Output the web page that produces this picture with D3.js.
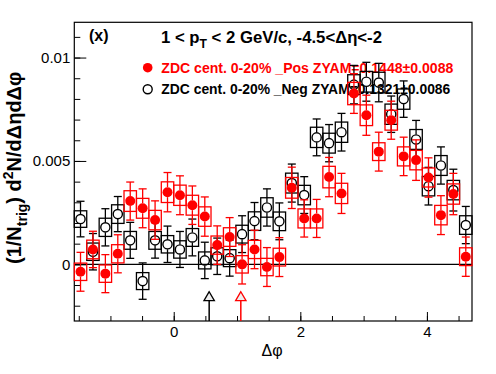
<!DOCTYPE html>
<html>
<head>
<meta charset="utf-8">
<script src="https://cdn.jsdelivr.net/npm/d3@7"></script>
<style>
  body { margin: 0; background: #fff; }
  text { font-family: "Liberation Sans", Arial, Helvetica, sans-serif; }
</style>
</head>
<body>
<svg width="496" height="374"></svg>
<script>
// 32 bins in dphi, from -pi/2 to 3pi/2
var nBins = 32;
var binCenters = d3.range(nBins).map(function (i) { return -Math.PI / 2 + (i + 0.5) * 2 * Math.PI / nBins; });

// ZDC 0-20% _Pos (red, filled)
var posVals = [-0.00036, 0.00072, -0.00045, 0.00051, 0.00306, 0.00271, 0.00214, 0.00349,
               0.00334, 0.00286, 0.00231, 0.00093, 0.00132, 0.00000, 0.00072, -0.00013,
               0.00035, 0.00370, 0.00222, 0.00222, 0.00422, 0.00343, 0.00826, 0.00721,
               0.00545, 0.00697, 0.00522, 0.00504, 0.00420, 0.00238, 0.00340, 0.00037];
var posStat = [0.00094, 0.00088, 0.00092, 0.00092, 0.00092, 0.00094, 0.00093, 0.00095,
               0.00094, 0.00093, 0.00095, 0.00093, 0.00094, 0.00095, 0.00093, 0.00094,
               0.00094, 0.00100, 0.00090, 0.00092, 0.00095, 0.00097, 0.00096, 0.00097,
               0.00094, 0.00092, 0.00093, 0.00098, 0.00095, 0.00094, 0.00100, 0.00095];
var posSys  = [0.00042, 0.00045, 0.00042, 0.00044, 0.00050, 0.00048, 0.00047, 0.00050,
               0.00049, 0.00048, 0.00047, 0.00044, 0.00045, 0.00042, 0.00044, 0.00042,
               0.00043, 0.00050, 0.00046, 0.00046, 0.00052, 0.00049, 0.00054, 0.00050,
               0.00043, 0.00048, 0.00046, 0.00047, 0.00046, 0.00047, 0.00049, 0.00043];

// ZDC 0-20% _Neg (black, open)
var negVals = [0.00219, 0.00061, 0.00179, 0.00243, 0.00116, -0.00081, 0.00116, 0.00097,
               0.00072, 0.00130, 0.00019, 0.00039, 0.00030, 0.00146, 0.00209, 0.00275,
               0.00208, 0.00393, 0.00335, 0.00614, 0.00586, 0.00639, 0.00869, 0.00883,
               0.00879, 0.00726, 0.00799, 0.00604, 0.00378, 0.00478, 0.00359, 0.00190];
var negStat = [0.00086, 0.00088, 0.00090, 0.00085, 0.00087, 0.00088, 0.00086, 0.00088,
               0.00087, 0.00089, 0.00088, 0.00088, 0.00087, 0.00089, 0.00090, 0.00090,
               0.00089, 0.00092, 0.00089, 0.00089, 0.00090, 0.00091, 0.00093, 0.00094,
               0.00093, 0.00088, 0.00088, 0.00092, 0.00091, 0.00090, 0.00101, 0.00090];
var negSys  = [0.00040, 0.00042, 0.00044, 0.00045, 0.00043, 0.00041, 0.00043, 0.00042,
               0.00042, 0.00043, 0.00041, 0.00041, 0.00041, 0.00043, 0.00045, 0.00047,
               0.00045, 0.00048, 0.00047, 0.00049, 0.00048, 0.00049, 0.00048, 0.00050,
               0.00050, 0.00049, 0.00049, 0.00048, 0.00047, 0.00048, 0.00047, 0.00045];

// arrow markers on the x axis (black = Neg, red = Pos)
var arrowPhi = [0.56, 1.06];
var arrowColors = ["#000", "#f00"];

var xMajor = [0, 2, 4];
var xMinor = d3.range(-1.5, 4.75, 0.5);
var yMajor = [0, 0.005, 0.01];
var yMinor = d3.range(-0.002, 0.0115, 0.001);

var svg = d3.select("svg");
var plotL = 74.3, plotR = 472, plotT = 22.3, plotB = 321;

var x = d3.scaleLinear().domain([-Math.PI / 2, 3 * Math.PI / 2]).range([plotL, plotR]);
var y = d3.scaleLinear().domain([-0.00274, 0.011705]).range([plotB, plotT]);
var halfBin = (x(2 * Math.PI / nBins) - x(0)) / 2;

svg.append("rect").attr("width", 496).attr("height", 374).attr("fill", "#fff");

// axes (ticks inside the frame, ROOT style)
var yAxis = d3.axisLeft(y).tickValues(yMajor).tickSize(-12).tickPadding(4)
    .tickFormat(function (d) { return d === 0 ? "0" : String(+d.toFixed(4)); });
var yAxisMinor = d3.axisLeft(y).tickValues(yMinor).tickSize(-6).tickFormat("");
var xAxis = d3.axisBottom(x).tickValues(xMajor).tickSize(-9).tickPadding(5).tickFormat(d3.format("d"));
var xAxisMinor = d3.axisBottom(x).tickValues(xMinor).tickSize(-5).tickFormat("");

[[yAxis, "translate(" + plotL + ",0)"], [yAxisMinor, "translate(" + plotL + ",0)"],
 [xAxis, "translate(0," + plotB + ")"], [xAxisMinor, "translate(0," + plotB + ")"]].forEach(function (a) {
    var g = svg.append("g").attr("transform", a[1]).call(a[0]);
    g.select(".domain").remove();
    g.selectAll("line").attr("stroke", "#000").attr("stroke-width", 1);
    g.selectAll("text").attr("fill", "#000").style("font-size", "15px")
        .style("font-family", "'Liberation Sans', Arial, sans-serif");
});

// zero line
svg.append("line")
    .attr("x1", plotL).attr("x2", plotR).attr("y1", y(0)).attr("y2", y(0))
    .attr("stroke", "#000").attr("stroke-width", 1.2);

// frame
svg.append("rect")
    .attr("x", plotL).attr("y", plotT).attr("width", plotR - plotL).attr("height", plotB - plotT)
    .attr("fill", "none").attr("stroke", "#000").attr("stroke-width", 1.2);

// axis titles
svg.append("text")
    .attr("x", 272).attr("y", 356).attr("text-anchor", "middle")
    .style("font-size", "16px").text("Δφ");

var yt = svg.append("text")
    .attr("transform", "translate(21,264) rotate(-90)")
    .style("font-size", "20px").style("font-weight", "bold");
yt.append("tspan").text("(1/N");
yt.append("tspan").attr("dy", 6).style("font-size", "14px").text("trig");
yt.append("tspan").attr("dy", -6).text(") d");
yt.append("tspan").attr("dy", -8).style("font-size", "14px").text("2");
yt.append("tspan").attr("dy", 8).text("N/dΔηdΔφ");

// header and legend
svg.append("text").attr("x", 89).attr("y", 41)
    .style("font-size", "16px").style("font-weight", "bold").text("(x)");

var ht = svg.append("text").attr("x", 161).attr("y", 42.7)
    .style("font-size", "16.5px").style("font-weight", "bold")
    .attr("textLength", 221).attr("lengthAdjust", "spacingAndGlyphs");
ht.append("tspan").text("1 < p");
ht.append("tspan").attr("dy", 5).style("font-size", "12px").text("T");
ht.append("tspan").attr("dy", -5).text(" < 2 GeV/c, -4.5<Δη<-2");

var legendRows = [
    { label: "ZDC cent. 0-20% _Pos ZYAM=0.1448±0.0088", color: "#f00", filled: true, cy: 67.7, base: 72.5, len: 292 },
    { label: "ZDC cent. 0-20% _Neg ZYAM=0.1321±0.0086", color: "#000", filled: false, cy: 89.3, base: 94, len: 289 }
];
legendRows.forEach(function (r) {
    svg.append("circle").attr("cx", 147.7).attr("cy", r.cy).attr("r", r.filled ? 4.8 : 4.5)
        .attr("fill", r.filled ? r.color : "none").attr("stroke", r.color).attr("stroke-width", r.filled ? 0 : 1.4);
    svg.append("text").attr("x", 161.3).attr("y", r.base)
        .attr("fill", r.color).style("font-size", "14px").style("font-weight", "bold")
        .attr("textLength", r.len).attr("lengthAdjust", "spacingAndGlyphs")
        .text(r.label);
});

// data series
function drawSeries(vals, stat, sys, color, filled) {
    var g = svg.append("g");
    var r = 5;
    var pts = vals.map(function (v, i) { return { x: binCenters[i], v: v, e: stat[i], s: sys[i] }; });

    // systematic boxes
    g.selectAll("rect.sys").data(pts).enter().append("rect")
        .attr("x", function (d) { return x(d.x) - halfBin; })
        .attr("width", halfBin * 2)
        .attr("y", function (d) { return y(d.v + d.s); })
        .attr("height", function (d) { return y(d.v - d.s) - y(d.v + d.s); })
        .attr("fill", "none").attr("stroke", color).attr("stroke-width", 1.3);

    // stat error bars (stop at marker edge) with caps
    pts.forEach(function (d) {
        var cx = x(d.x), cy = y(d.v), ytop = y(d.v + d.e), ybot = y(d.v - d.e);
        g.append("line").attr("x1", cx).attr("x2", cx).attr("y1", ytop).attr("y2", cy - r)
            .attr("stroke", color).attr("stroke-width", 1.3);
        g.append("line").attr("x1", cx).attr("x2", cx).attr("y1", cy + r).attr("y2", ybot)
            .attr("stroke", color).attr("stroke-width", 1.3);
        [ytop, ybot].forEach(function (yy) {
            g.append("line").attr("x1", cx - 4).attr("x2", cx + 4).attr("y1", yy).attr("y2", yy)
                .attr("stroke", color).attr("stroke-width", 1.3);
        });
    });

    g.selectAll("circle").data(pts).enter().append("circle")
        .attr("cx", function (d) { return x(d.x); })
        .attr("cy", function (d) { return y(d.v); })
        .attr("r", filled ? 5 : 4.6)
        .attr("fill", filled ? color : "none")
        .attr("stroke", color).attr("stroke-width", filled ? 0 : 1.4);
}

drawSeries(negVals, negStat, negSys, "#000", false);
drawSeries(posVals, posStat, posSys, "#f00", true);

// arrows
arrowPhi.forEach(function (p, i) {
    var ax = x(p);
    svg.append("line").attr("x1", ax).attr("x2", ax).attr("y1", 300.7).attr("y2", plotB)
        .attr("stroke", arrowColors[i]).attr("stroke-width", 1.5);
    svg.append("path")
        .attr("d", "M" + ax + ",291.7L" + (ax - 5.2) + ",300.7L" + (ax + 5.2) + ",300.7Z")
        .attr("fill", "#eee").attr("stroke", arrowColors[i]).attr("stroke-width", 1.3);
});
</script>
</body>
</html>
